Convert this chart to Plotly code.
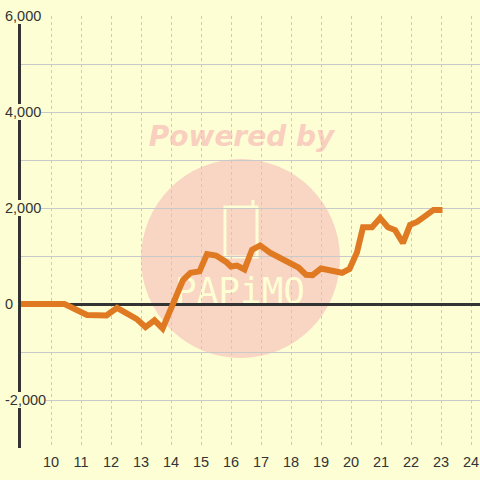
import plotly.graph_objects as go

# ---- data ----
x_vals = [9, 10.45, 11.2, 11.85, 12.2, 12.5, 12.85, 13.15, 13.45, 13.72, 14.4, 14.65,
          14.95, 15.2, 15.5, 15.85, 16.0, 16.2, 16.45, 16.7, 16.97, 17.3, 17.7, 18.05,
          18.25, 18.5, 18.72, 19.0, 19.3, 19.7, 19.95, 20.2, 20.4, 20.7, 20.97, 21.23,
          21.47, 21.73, 21.97, 22.2, 22.47, 22.75, 23.05]
y_vals = [0, 0, -230, -240, -80, -200, -310, -480, -340, -510, 500, 650,
          680, 1040, 1010, 870, 780, 800, 720, 1130, 1220, 1070, 950, 840,
          760, 610, 600, 740, 690, 650, 730, 1080, 1600, 1600, 1790, 1600,
          1540, 1270, 1650, 1710, 1830, 1960, 1960]

x_tick_vals = list(range(10, 25))
y_tick_vals = [6000, 4000, 2000, 0, -2000]
y_tick_labels = ["6,000", "4,000", "2,000", "0", "-2,000"]

# ---- style ----
BG = "#FDFED3"
GRID = "#C9C9C9"
DARK = "#333333"
LINE = "#E07A22"
FONT = "Liberation Sans, Arial, sans-serif"

W, H = 480, 480
ML, MR, MT, MB = 21, 0, 16, 32
PW, PH = W - ML - MR, H - MT - MB


def px(xs):
    """screen pixel x -> paper x"""
    return (xs - ML) / PW


def py(ys):
    """screen pixel y -> paper y"""
    return (H - MB - ys) / PH


fig = go.Figure()
fig.add_trace(go.Scatter(x=x_vals, y=y_vals, mode="lines",
                         line=dict(color=LINE, width=6),
                         hoverinfo="skip", showlegend=False))

shapes = [
    dict(type="circle", xref="paper", yref="paper",
         x0=px(141), x1=px(340), y0=py(358), y1=py(159),
         fillcolor="#F9D5C4", line=dict(width=0), layer="below"),
    dict(type="rect", xref="paper", yref="paper",
         x0=px(138), x1=px(345), y0=py(150), y1=py(118),
         fillcolor="rgba(0,0,0,0)", line=dict(width=0), layer="below",
         label=dict(text="Powered by", textposition="middle center",
                    font=dict(family="DejaVu Sans", size=28, color="#F9CFBF",
                              weight="bold", style="italic"))),
    dict(type="rect", xref="paper", yref="paper",
         x0=px(165), x1=px(315), y0=py(305), y1=py(270),
         fillcolor="rgba(0,0,0,0)", line=dict(width=0), layer="below",
         label=dict(text="PAPiMO", textposition="middle center",
                    font=dict(family="DejaVu Sans Mono", size=36, color=BG))),
    dict(type="rect", xref="paper", yref="paper",
         x0=px(225), x1=px(257), y0=py(257), y1=py(207),
         fillcolor="rgba(0,0,0,0)", line=dict(width=3, color=BG), layer="below"),
    dict(type="line", xref="paper", yref="paper",
         x0=px(253), x1=px(253), y0=py(207), y1=py(200),
         line=dict(width=3, color=BG), layer="below"),
]

annotations = []
for v, t in zip(y_tick_vals, y_tick_labels):
    annotations.append(dict(xref="paper", yref="y", x=px(5), y=v,
                            xanchor="left", yanchor="middle", text=t,
                            showarrow=False, bgcolor=BG, borderpad=0,
                            borderwidth=0,
                            font=dict(family=FONT, size=14.5, color=DARK)))

fig.update_layout(
    width=W, height=H, autosize=False,
    margin=dict(l=ML, r=MR, t=MT, b=MB, pad=0),
    paper_bgcolor=BG, plot_bgcolor=BG,
    showlegend=False,
    shapes=shapes,
    annotations=annotations,
    xaxis=dict(range=[9, 9 + PW / 30], tickmode="array", tickvals=x_tick_vals,
               showgrid=True, gridcolor=GRID, gridwidth=1, griddash="dot",
               zeroline=False, showline=False, ticks="",
               tickfont=dict(family=FONT, size=14.5, color=DARK),
               ticklabelstandoff=3, fixedrange=True),
    yaxis=dict(range=[-3000, 6000], tick0=0, dtick=1000,
               showgrid=True, gridcolor=GRID, gridwidth=1,
               zeroline=True, zerolinecolor=DARK, zerolinewidth=3,
               showline=True, linecolor=DARK, linewidth=3,
               showticklabels=False, ticks="", fixedrange=True),
)

fig.write_html(
    "out.html",
    config={"displayModeBar": False},
    post_script="document.body.style.margin='0';"
                "document.body.style.background='" + BG + "';",
)
